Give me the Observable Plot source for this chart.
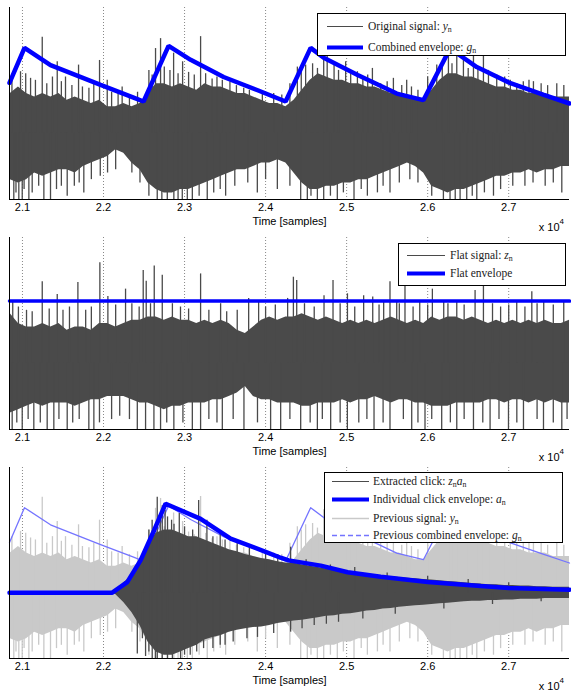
<!DOCTYPE html>
<html><head><meta charset="utf-8">
<script src="https://cdn.jsdelivr.net/npm/d3@7"></script>
<script src="https://cdn.jsdelivr.net/npm/@observablehq/plot@0.6"></script>
<style>
html,body{margin:0;padding:0;background:#fff;}
#wrap{position:relative;width:571px;height:693px;overflow:hidden;}
#wrap > svg{display:block;}
.leg{position:absolute;border:1px solid #000;background:#fff;box-sizing:border-box;font-family:"Liberation Serif","DejaVu Serif",serif;font-size:11.5px;color:#222;}
.row{position:absolute;left:0;right:0;height:18px;line-height:18px;white-space:nowrap;}
.sw{position:absolute;top:0;}
.tx{position:absolute;top:0;}
.tx i{font-style:italic;}
.tx sub{font-size:0.68em;vertical-align:-0.3em;line-height:0;}
</style>
</head><body>
<div id="wrap"></div>
<script>
// ---- data ----
const xTicks = [21000, 22000, 23000, 24000, 25000, 26000, 27000];
const binT = [20850,20950,21050,21150,21250,21350,21450,21550,21650,21750,
  21850,21950,22050,22150,22250,22350,22450,22550,22650,22750,
  22850,22950,23050,23150,23250,23350,23450,23550,23650,23750,
  23850,23950,24050,24150,24250,24350,24450,24550,24650,24750,
  24850,24950,25050,25150,25250,25350,25450,25550,25650,25750,
  25850,25950,26050,26150,26250,26350,26450,26550,26650,26750,
  26850,26950,27050,27150,27250,27350,27450,27550,27650,27750];

// original signal y_n : dense body upper / lower extents
const yHi = [0.6,0.7,0.6,0.55,0.6,0.55,0.6,0.5,0.55,0.5, 0.45,0.5,0.4,0.4,0.45,0.4,0.45,0.6,0.75,0.75,
  0.7,0.75,0.7,0.65,0.75,0.7,0.7,0.65,0.6,0.6, 0.55,0.5,0.45,0.45,0.4,0.5,0.65,0.8,0.9,0.85,
  0.8,0.8,0.75,0.75,0.7,0.7,0.65,0.6,0.6,0.55, 0.5,0.5,0.65,0.8,0.9,0.9,0.85,0.85,0.8,0.75,
  0.7,0.7,0.65,0.65,0.6,0.6,0.6,0.55,0.55,0.55];
const yLo = [-0.7,-0.75,-0.7,-0.6,-0.65,-0.6,-0.55,-0.55,-0.6,-0.5, -0.45,-0.4,-0.35,-0.25,-0.3,-0.45,-0.55,-0.75,-0.85,-0.9,
  -0.9,-0.85,-0.85,-0.8,-0.75,-0.7,-0.65,-0.6,-0.55,-0.55, -0.5,-0.45,-0.45,-0.4,-0.45,-0.6,-0.75,-0.85,-0.85,-0.8,
  -0.8,-0.75,-0.75,-0.7,-0.7,-0.65,-0.6,-0.55,-0.5,-0.45, -0.5,-0.6,-0.8,-0.85,-0.9,-0.85,-0.85,-0.8,-0.75,-0.7,
  -0.65,-0.65,-0.6,-0.6,-0.55,-0.6,-0.55,-0.55,-0.5,-0.5];
const ySpikesUp = [[20976,0.93],[21100,0.83],[21244,1.45],[21429,1.08],[21531,0.85],[21692,1.03],[21951,1.1],[22046,0.8],
  [22642,1.28],[22704,1.43],[22865,1.21],[22976,1.08],[23198,1.46],[23466,0.8],[23730,0.68],[24392,1.0],[24494,1.03],
  [24717,1.26],[24760,1.16],[24845,1.05],[24988,1.08],[25133,0.93],[25318,0.98],[25577,0.83],[25741,0.8],[26112,1.03],
  [26256,1.16],[26359,1.26],[26441,1.1],[26565,1.21],[26688,1.26],[26852,0.88],[27099,0.75],[27305,0.78],[27593,0.75],
  [20870,0.85],[21040,0.9],[21160,0.8],[21300,0.75],[21370,0.85],[21480,0.78],[21610,0.72],[21740,0.7],[21820,0.68],
  [21880,0.75],[22100,0.62],[22180,0.6],[22230,0.7],[22320,0.58],[22420,0.62],[22560,0.95],[22600,0.88],[22750,1.0],
  [22820,0.95],[22920,0.9],[23050,0.92],[23120,0.88],[23260,0.9],[23340,0.82],[23400,0.85],[23560,0.78],[23640,0.72],
  [23800,0.65],[23960,0.62],[24100,0.6],[24200,0.58],[24300,0.75],[24440,0.95],[24580,1.05],[24640,0.98],[24900,0.95],
  [25050,0.9],[25200,0.85],[25260,0.88],[25420,0.75],[25500,0.78],[25680,0.72],[25800,0.7],[25880,0.65],[26000,0.85],
  [26180,1.0],[26300,1.05],[26500,0.98],[26620,1.0],[26750,0.95],[26950,0.85],[27020,0.8],[27180,0.78],[27250,0.8],
  [27400,0.75],[27480,0.72],[27680,0.72]];
const ySpikesDown = [[20893,-1],[20955,-1],[20997,-1],[21079,-1],[21264,-1],[21346,-1],[21552,-0.95],[21757,-0.9],
  [22663,-1],[22787,-1],[22868,-1],[22972,-1],[23034,-1],[23096,-1],[23280,-1],[23507,-0.95],[23898,-0.9],[24145,-0.85],
  [24433,-1],[24515,-1],[24639,-1],[24717,-1],[24885,-1],[25091,-1],[25256,-0.95],[25380,-0.9],[25535,-0.9],
  [26194,-1],[26276,-1],[26400,-1],[26482,-1],[26606,-1],[26812,-0.95],[27655,-0.9],[27757,-1],
  [20920,-0.9],[21020,-0.85],[21120,-0.9],[21200,-0.8],[21420,-0.85],[21480,-0.8],[21640,-0.8],[21700,-0.75],[21850,-0.7],
  [21960,-0.65],[22050,-0.6],[22150,-0.55],[22350,-0.6],[22450,-0.75],[22560,-0.95],[22720,-1],[22920,-1],[23180,-0.95],
  [23360,-0.9],[23440,-0.85],[23620,-0.8],[23780,-0.75],[24000,-0.7],[24300,-0.8],[24560,-0.95],[24800,-0.95],[24960,-0.9],
  [25180,-0.85],[25450,-0.8],[25650,-0.75],[25780,-0.7],[25880,-0.75],[26050,-0.95],[26340,-1],[26550,-0.95],[26700,-0.9],
  [26900,-0.85],[27050,-0.8],[27200,-0.8],[27300,-0.75],[27450,-0.8],[27550,-0.75]];

// flat signal z_n
const zHi = [0.75,0.6,0.55,0.55,0.6,0.55,0.6,0.5,0.55,0.55, 0.5,0.6,0.6,0.55,0.6,0.65,0.65,0.7,0.7,0.65,
  0.7,0.65,0.65,0.6,0.65,0.6,0.65,0.6,0.5,0.45, 0.55,0.65,0.7,0.65,0.7,0.7,0.75,0.7,0.65,0.7,
  0.65,0.6,0.65,0.6,0.65,0.6,0.65,0.7,0.65,0.6, 0.65,0.6,0.7,0.65,0.7,0.7,0.65,0.7,0.65,0.6,
  0.65,0.6,0.65,0.6,0.65,0.6,0.65,0.6,0.6,0.65];
const zLo = [-0.75,-0.7,-0.65,-0.6,-0.65,-0.6,-0.6,-0.6,-0.65,-0.6, -0.55,-0.55,-0.5,-0.5,-0.5,-0.55,-0.6,-0.6,-0.65,-0.7,
  -0.65,-0.65,-0.6,-0.6,-0.6,-0.55,-0.55,-0.5,-0.45,-0.35, -0.5,-0.55,-0.55,-0.6,-0.6,-0.6,-0.65,-0.65,-0.6,-0.6,
  -0.6,-0.55,-0.6,-0.55,-0.55,-0.5,-0.55,-0.6,-0.55,-0.55, -0.6,-0.6,-0.65,-0.65,-0.65,-0.6,-0.6,-0.6,-0.6,-0.55,
  -0.55,-0.6,-0.55,-0.55,-0.6,-0.55,-0.6,-0.55,-0.6,-0.6];
const zSpikesUp = [[20880,0.92],[21244,1.23],[21429,1.04],[21684,1.22],[21955,1.52],[22054,1.01],[22272,1.12],[22490,1.4],
  [22527,1.24],[22626,1.47],[22725,1.33],[23198,1.35],[23445,0.9],[23791,0.98],[23914,0.92],[24272,0.98],[24343,1.3],
  [24384,1.25],[24721,1.02],[24832,1.25],[25010,1.05],[25210,1.02],[25322,1.0],[25457,0.95],[25535,1.23],[25618,0.95],
  [25720,1.18],[25902,0.95],[26058,1.12],[26198,0.95],[26359,0.95],[26585,1.1],[26688,1.18],[27099,0.95],[27285,1.08],
  [27432,0.95],[27679,0.95],
  [20950,0.85],[21050,0.8],[21120,0.78],[21330,0.82],[21500,0.8],[21580,0.85],[21780,0.8],[21850,0.85],[22150,0.88],
  [22350,0.9],[22440,0.85],[22580,0.9],[22850,0.9],[22950,0.85],[23050,0.82],[23300,0.8],[23520,0.78],[23650,0.8],
  [24000,0.85],[24120,0.88],[24480,0.9],[24600,0.85],[24920,0.9],[25100,0.85],[25400,0.88],[25650,0.9],[25820,0.85],
  [26000,0.88],[26250,0.9],[26450,0.88],[26800,0.9],[26900,0.85],[27000,0.88],[27200,0.85],[27350,0.9],[27550,0.88]];
const zSpikesDown = [[20873,-1],[20997,-1],[21140,-1],[21305,-1],[21387,-1],[21552,-1],[21819,-1],[21881,-1],[22417,-1],
  [22519,-1],[22622,-1],[22704,-1],[22868,-1],[23096,-1],[23198,-1],[23466,-1],[23733,-1],[24062,-1],[24186,-1],[24433,-1],
  [24639,-1],[24803,-1],[25009,-1],[25338,-1],[25535,-1],[25803,-1],[25967,-1],[26173,-1],[26359,-1],[26565,-1],[26770,-1],
  [26997,-1],[27182,-1],[27429,-1],[27655,-1],
  [20930,-0.9],[21070,-0.85],[21220,-0.9],[21450,-0.85],[21620,-0.9],[21700,-0.85],[21950,-0.9],[22100,-0.85],[22200,-0.8],
  [22320,-0.85],[22780,-0.9],[22980,-0.9],[23300,-0.85],[23400,-0.9],[23600,-0.85],[23900,-0.9],[24300,-0.85],[24550,-0.9],
  [24700,-0.85],[24920,-0.9],[25150,-0.9],[25250,-0.85],[25450,-0.9],[25700,-0.85],[25880,-0.9],[26050,-0.85],[26280,-0.9],
  [26450,-0.85],[26680,-0.9],[26880,-0.85],[27100,-0.9],[27350,-0.85],[27550,-0.9],[27720,-0.85]];

// extracted click z_n a_n
const cHi = [0,0,0,0,0,0,0,0,0,0, 0,0,0,0.03,0.15,0.25,0.45,0.75,0.9,0.95,
  0.95,0.9,0.85,0.85,0.8,0.75,0.7,0.65,0.62,0.58, 0.55,0.52,0.5,0.47,0.45,0.45,0.42,0.4,0.38,0.36,
  0.35,0.33,0.32,0.3,0.28,0.27,0.25,0.24,0.23,0.22, 0.21,0.2,0.19,0.18,0.17,0.16,0.15,0.14,0.13,0.12,
  0.12,0.11,0.11,0.1,0.1,0.09,0.09,0.08,0.08,0.08];
const cLo = [0,0,0,0,0,0,0,0,0,0, 0,0,0,-0.03,-0.15,-0.3,-0.5,-0.75,-0.9,-0.95,
  -0.95,-0.9,-0.85,-0.8,-0.72,-0.68,-0.65,-0.6,-0.57,-0.55, -0.53,-0.52,-0.5,-0.47,-0.45,-0.43,-0.42,-0.4,-0.38,-0.36,
  -0.35,-0.33,-0.32,-0.3,-0.28,-0.27,-0.25,-0.24,-0.22,-0.21, -0.2,-0.19,-0.18,-0.17,-0.16,-0.15,-0.14,-0.13,-0.13,-0.12,
  -0.12,-0.11,-0.11,-0.1,-0.1,-0.1,-0.09,-0.09,-0.09,-0.09];
const cSpikesUp = [[22663,1.45],[22725,1.32],[22790,1.15],[22870,1.04],[22935,1.2],[23174,1.4],[23276,1.1],[23440,0.92],
  [23650,0.8],[24309,0.69],
  [22500,0.6],[22560,0.95],[22600,1.1],[22700,1.2],[22760,1.25],[22840,1.1],[23000,1.0],[23100,0.95],[23350,0.85],
  [23500,0.8],[23800,0.68],[24000,0.62],[24150,0.58],[24500,0.5],[24800,0.42],[25100,0.38],[25500,0.3],[26000,0.25],
  [26500,0.2],[27000,0.15]];
const cSpikesDown = [[22417,-0.93],[22519,-0.97],[22601,-1],[22663,-1],[22725,-1],[22790,-1],[22951,-1],[23070,-0.95],
  [23235,-0.85],[23440,-0.8],[23600,-0.75],[23770,-0.7],[24309,-0.6],[24600,-0.5],[24900,-0.45],
  [22480,-0.7],[22560,-0.9],[22640,-1],[22850,-1],[23000,-0.95],[23150,-0.9],[23350,-0.85],[23500,-0.8],[23900,-0.68],
  [24100,-0.62],[24450,-0.55],[24750,-0.48],[25200,-0.4],[25600,-0.33],[26200,-0.25],[26800,-0.18],[27400,-0.14]];

// envelopes
const gT = [20840,21025,21346,21964,22371,22494,22803,23075,23482,23902,24247,24556,24717,25136,25482,25618,25947,26280,26359,26606,27013,27433,27750];
const gV = [0.76,1.29,1.03,0.73,0.54,0.48,1.32,1.11,0.85,0.65,0.48,1.29,1.14,0.88,0.68,0.6,0.5,1.29,1.21,1.0,0.76,0.58,0.45];
const aT = [20840,22108,22293,22457,22622,22766,23198,23568,24000,24186,24284,24680,25013,25420,26001,26655,27001,27750];
const aV = [0,0,0.16,0.49,0.94,1.35,1.12,0.82,0.62,0.53,0.49,0.41,0.31,0.24,0.16,0.1,0.07,0.045];
const flatT = [20840, 27750];
const flatV = [0.94, 0.94];

// ---- build ----
const DARK = "#4a4a4a", LIGHT = "#c9c9c9", BLUE = "#0000ff", PALE = "#7474ff";
const bins = (hi, lo) => binT.map((t, i) => ({t, hi: hi[i], lo: lo[i]}));
const spikes = arr => arr.map(([t, v]) => ({t, v, z: 0}));
const line = (T, V) => T.map((t, i) => ({t, v: V[i]}));

function signal(hi, lo, up, down, color) {
  return [
    Plot.areaY(bins(hi, lo), {x: "t", y1: "lo", y2: "hi", fill: color, curve: "linear", clip: true}),
    Plot.ruleX(spikes(up), {x: "t", y1: "z", y2: "v", stroke: color, strokeWidth: 1.3, clip: true}),
    Plot.ruleX(spikes(down), {x: "t", y1: "z", y2: "v", stroke: color, strokeWidth: 1.3, clip: true})
  ];
}

function panel(mt, mb, marks) {
  return Plot.plot({
    width: 571, height: 231, marginLeft: 9, marginRight: 2, marginTop: mt, marginBottom: mb,
    style: {fontFamily: "'Liberation Sans', Arial, sans-serif", fontSize: "11px", background: "#fff", color: "#000"},
    x: {domain: [20840, 27750]},
    y: {domain: [-1, 1.9], axis: null},
    marks: [
      Plot.ruleX(xTicks, {stroke: "#888", strokeDasharray: "1,2"}),
      ...marks,
      Plot.ruleY([-1], {stroke: "#000"}),
      Plot.ruleX([20840], {stroke: "#000"}),
      Plot.axisX({ticks: xTicks, tickFormat: d => (d / 1e4).toFixed(1), tickSize: 0, tickPadding: 4, label: null, fontSize: 11}),
      Plot.text(["Time [samples]"], {frameAnchor: "bottom", dy: 25, fontSize: 11}),
      Plot.text(["x 10"], {frameAnchor: "bottom-right", textAnchor: "end", dx: -10, dy: 31, fontSize: 11}),
      Plot.text(["4"], {frameAnchor: "bottom-right", textAnchor: "start", dx: -10, dy: 24, fontSize: 8})
    ]
  });
}

const wrap = document.getElementById("wrap");
wrap.appendChild(panel(7, 32, [
  ...signal(yHi, yLo, ySpikesUp, ySpikesDown, DARK),
  Plot.line(line(gT, gV), {x: "t", y: "v", stroke: BLUE, strokeWidth: 4.5, strokeLinejoin: "miter"})
]));
wrap.appendChild(panel(6, 33, [
  ...signal(zHi, zLo, zSpikesUp, zSpikesDown, DARK),
  Plot.line(line(flatT, flatV), {x: "t", y: "v", stroke: BLUE, strokeWidth: 3.5})
]));
wrap.appendChild(panel(5, 35, [
  ...signal(yHi, yLo, ySpikesUp, ySpikesDown, LIGHT),
  Plot.line(line(gT, gV), {x: "t", y: "v", stroke: PALE, strokeWidth: 1.3}),
  ...signal(cHi, cLo, cSpikesUp, cSpikesDown, DARK),
  Plot.line(line(aT, aV), {x: "t", y: "v", stroke: BLUE, strokeWidth: 4.5, strokeLinejoin: "miter"})
]));

// ---- legends ----
const legends = [
  {left: 317, top: 13, w: 249, h: 43, sw: 10, swW: 36, tx: 51, rows: [
    {y: 13, stroke: DARK, width: 1, dash: "", html: "Original signal: <i>y</i><sub>n</sub>"},
    {y: 34, stroke: BLUE, width: 4, dash: "", html: "Combined envelope: <i>g</i><sub>n</sub>"}]},
  {left: 398, top: 243, w: 168, h: 43, sw: 9, swW: 38, tx: 52, rows: [
    {y: 12, stroke: DARK, width: 1, dash: "", html: "Flat signal: <i>z</i><sub>n</sub>"},
    {y: 30, stroke: BLUE, width: 4, dash: "", html: "Flat envelope"}]},
  {left: 324, top: 472, w: 239, h: 71, sw: 8, swW: 37, tx: 49, rows: [
    {y: 9, stroke: DARK, width: 1, dash: "", html: "Extracted click: <i>z</i><sub>n</sub><i>a</i><sub>n</sub>"},
    {y: 27, stroke: BLUE, width: 4, dash: "", html: "Individual click envelope: <i>a</i><sub>n</sub>"},
    {y: 46, stroke: LIGHT, width: 1.5, dash: "", html: "Previous signal: <i>y</i><sub>n</sub>"},
    {y: 63, stroke: PALE, width: 1.3, dash: "5,3", html: "Previous combined envelope: <i>g</i><sub>n</sub>"}]}
];
for (const L of legends) {
  const d = document.createElement("div");
  d.className = "leg";
  Object.assign(d.style, {left: L.left + "px", top: L.top + "px", width: L.w + "px", height: L.h + "px"});
  for (const r of L.rows) {
    const row = document.createElement("div");
    row.className = "row";
    row.style.top = (r.y - 10) + "px";
    row.innerHTML = `<svg class="sw" style="left:${L.sw - 1}px" width="${L.swW}" height="18"><line x1="0" x2="${L.swW}" y1="9.5" y2="9.5" stroke="${r.stroke}" stroke-width="${r.width}" ${r.dash ? `stroke-dasharray="${r.dash}"` : ""}/></svg><div class="tx" style="left:${L.tx - 1}px">${r.html}</div>`;
    d.appendChild(row);
  }
  wrap.appendChild(d);
}
</script>
</body></html>
